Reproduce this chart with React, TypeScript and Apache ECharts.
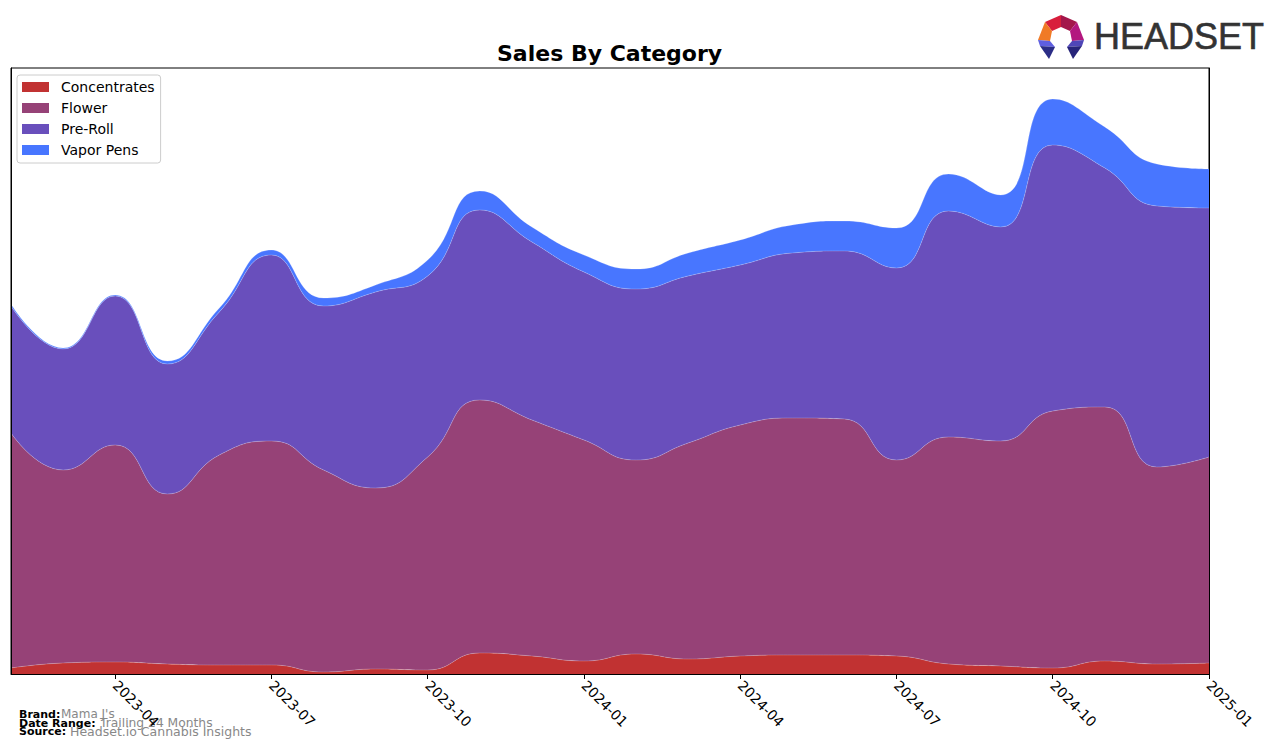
import React, { useEffect, useRef } from "react";
import * as echarts from "echarts";

const months = [
  "2023-02", "2023-03", "2023-04", "2023-05", "2023-06", "2023-07", "2023-08", "2023-09",
  "2023-10", "2023-11", "2023-12", "2024-01", "2024-02", "2024-03", "2024-04", "2024-05",
  "2024-06", "2024-07", "2024-08", "2024-09", "2024-10", "2024-11", "2024-12", "2025-01",
];

const concentrates = [6, 11, 12, 10, 9, 9, 2, 5, 4, 21, 18, 13, 20, 15, 18, 19, 19, 18, 10, 8, 6, 13, 10, 11];
const flower = [235, 193, 217, 170, 210, 224, 202, 181, 213, 253, 236, 221, 194, 216, 231, 237, 236, 196, 227, 225, 257, 254, 197, 206];
const preRoll = [127, 121, 149, 130, 143, 186, 164, 196, 181, 190, 178, 168, 171, 167, 160, 165, 168, 192, 226, 214, 266, 239, 261, 249];
const vaporPens = [2, 1, 1, 3, 4, 5, 8, 7, 16, 19, 15, 17, 20, 23, 25, 28, 30, 40, 37, 32, 46, 41, 42, 39];

const seriesNames = ["Concentrates", "Flower", "Pre-Roll", "Vapor Pens"];
const seriesColors = ["#C13232", "#964277", "#694FBC", "#4876FF"];
const seriesData = [concentrates, flower, preRoll, vaporPens];

const tickMonths = ["01", "04", "07", "10"];
const FONT = "DejaVu Sans";

export default function App() {
  const ref = useRef<HTMLDivElement>(null);

  useEffect(() => {
    if (!ref.current) return;
    const chart = echarts.init(ref.current, null, { renderer: "svg" });
    const showTick = (idx: number) => tickMonths.includes(months[idx].slice(5));

    const poly = (pts: number[][], color: string) => ({
      type: "polygon",
      shape: { points: pts },
      style: { fill: color },
      silent: true,
    });

    chart.setOption({
      animation: false,
      backgroundColor: "#fff",
      title: {
        text: "Sales By Category",
        left: 497,
        top: 42,
        padding: 0,
        textStyle: { fontFamily: FONT, fontSize: 22, fontWeight: "bold", color: "#000" },
      },
      legend: {
        orient: "vertical",
        left: 17,
        top: 75,
        padding: [5, 6, 6, 5],
        itemWidth: 27,
        itemHeight: 10,
        itemGap: 7,
        icon: "rect",
        borderColor: "#cccccc",
        borderWidth: 1,
        borderRadius: 3,
        backgroundColor: "rgba(255,255,255,0.85)",
        textStyle: { fontFamily: FONT, fontSize: 14, color: "#000", lineHeight: 14, padding: [0, 0, 0, 7] },
        data: seriesNames,
      },
      grid: {
        left: 11,
        right: 67,
        top: 68,
        bottom: 74,
        show: true,
        borderColor: "#000",
        borderWidth: 1,
        backgroundColor: "transparent",
      },
      xAxis: {
        type: "category",
        data: months,
        boundaryGap: false,
        axisLine: { show: true, lineStyle: { color: "#000", width: 1 } },
        axisTick: { show: true, interval: (i: number) => showTick(i), length: 5, lineStyle: { color: "#000" } },
        axisLabel: {
          interval: (i: number) => showTick(i),
          rotate: -45,
          margin: 9,
          fontFamily: FONT,
          fontSize: 14,
          color: "#000",
          showMaxLabel: true,
        },
        splitLine: { show: false },
      },
      yAxis: [
        {
          type: "value",
          min: 0,
          max: 606,
          position: "left",
          axisLine: { show: true, lineStyle: { color: "#000", width: 1 } },
          axisTick: { show: false },
          axisLabel: { show: false },
          splitLine: { show: false },
          z: 10,
        },
        {
          type: "value",
          min: 0,
          max: 606,
          position: "right",
          axisLine: { show: true, lineStyle: { color: "#000", width: 1 } },
          axisTick: { show: false },
          axisLabel: { show: false },
          splitLine: { show: false },
          z: 10,
        },
      ],
      series: seriesNames.map((name, i) => ({
        name,
        type: "line",
        stack: "total",
        smooth: 0.5,
        symbol: "none",
        data: seriesData[i],
        itemStyle: { color: seriesColors[i] },
        lineStyle: { width: 0.6, color: "rgba(255,255,255,0.35)" },
        areaStyle: { color: seriesColors[i], opacity: 1 },
        emphasis: { disabled: true },
      })),
      graphic: [
        poly([[1045, 22], [1061, 15], [1061, 27], [1052, 31]], "#d81e3c"),
        poly([[1061, 15], [1077, 22], [1070, 31], [1061, 27]], "#a3174b"),
        poly([[1045, 22], [1052, 31], [1050, 41], [1038, 40]], "#f07a26"),
        poly([[1077, 22], [1084, 40], [1072, 41], [1070, 31]], "#b3177f"),
        poly([[1038, 40], [1050, 41], [1055, 47], [1040, 46]], "#5f5fe0"),
        poly([[1040, 46], [1055, 47], [1049, 59]], "#2b2d86"),
        poly([[1084, 40], [1072, 41], [1067, 47], [1082, 46]], "#4f46b8"),
        poly([[1082, 46], [1067, 47], [1073, 59]], "#27247a"),
        {
          type: "text",
          x: 1094,
          y: 36,
          style: {
            text: "HEADSET",
            font: "36px 'Liberation Sans'",
            fill: "#333333",
            stroke: "#333333",
            lineWidth: 0.6,
            verticalAlign: "middle",
            align: "left",
          },
          silent: true,
        },
        {
          type: "text", x: 19, y: 714,
          style: { text: "Brand:", font: `bold 11px '${FONT}'`, fill: "#000", verticalAlign: "middle" },
        },
        {
          type: "text", x: 61, y: 714,
          style: { text: "Mama J's", font: `12px '${FONT}'`, fill: "#888888", verticalAlign: "middle" },
        },
        {
          type: "text", x: 19, y: 723,
          style: { text: "Date Range:", font: `bold 11px '${FONT}'`, fill: "#000", verticalAlign: "middle" },
        },
        {
          type: "text", x: 100, y: 723,
          style: { text: "Trailing 24 Months", font: `12.3px '${FONT}'`, fill: "#888888", verticalAlign: "middle" },
        },
        {
          type: "text", x: 19, y: 731,
          style: { text: "Source:", font: `bold 11px '${FONT}'`, fill: "#000", verticalAlign: "middle" },
        },
        {
          type: "text", x: 70, y: 731,
          style: { text: "Headset.io Cannabis Insights", font: `12.5px '${FONT}'`, fill: "#888888", verticalAlign: "middle" },
        },
      ],
    });

    return () => chart.dispose();
  }, []);

  return (
    <div
      ref={ref}
      style={{ position: "fixed", left: 0, top: 0, width: 1276, height: 748, background: "#fff" }}
    />
  );
}
